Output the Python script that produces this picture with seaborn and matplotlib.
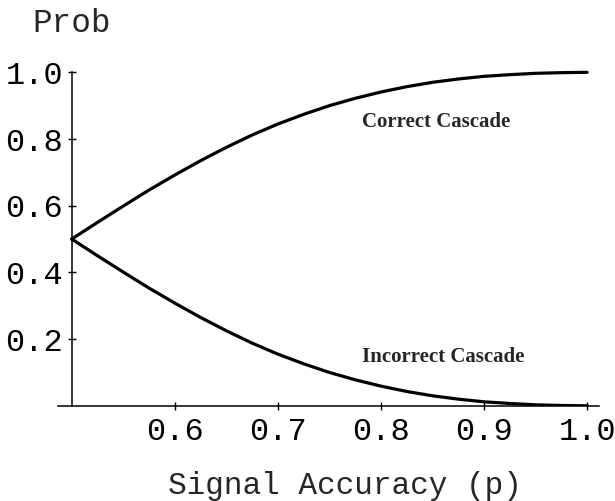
import matplotlib
matplotlib.use("Agg")
import matplotlib.pyplot as plt
import seaborn as sns
import pandas as pd

# signal accuracy p and the two cascade probabilities
p_values = [0.5, 0.525, 0.55, 0.575, 0.6, 0.625, 0.65, 0.675, 0.7, 0.725, 0.75,
            0.775, 0.8, 0.825, 0.85, 0.875, 0.9, 0.925, 0.95, 0.975, 1.0]
correct = [0.5, 0.550, 0.599, 0.647, 0.692, 0.735, 0.775, 0.812, 0.845, 0.874, 0.900,
           0.922, 0.941, 0.957, 0.970, 0.980, 0.988, 0.993, 0.997, 0.999, 1.0]
incorrect = [0.5, 0.450, 0.401, 0.353, 0.308, 0.265, 0.225, 0.188, 0.155, 0.126, 0.100,
             0.078, 0.059, 0.043, 0.030, 0.020, 0.012, 0.007, 0.003, 0.001, 0.0]
x_ticks = [0.6, 0.7, 0.8, 0.9, 1.0]
y_ticks = [0.2, 0.4, 0.6, 0.8, 1.0]

df = pd.DataFrame({"p": p_values, "Correct Cascade": correct,
                   "Incorrect Cascade": incorrect})

sns.set_style("white")
plt.rcParams["font.family"] = ["Liberation Mono", "DejaVu Sans Mono"]

fig = plt.figure(figsize=(6.15, 5.01), dpi=100)
ax = fig.add_axes([0.0943, 0.190, 0.880, 0.6723])

sns.lineplot(data=df, x="p", y="Correct Cascade", color="black", linewidth=2.3, ax=ax)
sns.lineplot(data=df, x="p", y="Incorrect Cascade", color="black", linewidth=2.3, ax=ax)

ax.set_xlim(0.4867, 1.0117)
ax.set_ylim(0, 1.01)

for s in ["top", "right"]:
    ax.spines[s].set_visible(False)
ax.spines["left"].set_position(("data", 0.5))
ax.spines["left"].set_bounds(0, 1.0)
for s in ["left", "bottom"]:
    ax.spines[s].set_color("black")
    ax.spines[s].set_linewidth(1.1)

ax.set_xticks(x_ticks)
ax.set_xticklabels([f"{v:.1f}" for v in x_ticks])
ax.set_yticks(y_ticks)
ax.set_yticklabels([f"{v:.1f}" for v in y_ticks])
ax.tick_params(axis="both", direction="inout", length=6, width=1, color="black",
               labelsize=23, labelcolor="black")
ax.tick_params(axis="x", pad=5)
ax.tick_params(axis="y", pad=3)
ax.xaxis.set_ticks_position("bottom")
ax.yaxis.set_ticks_position("left")

ax.set_xlabel("")
ax.set_ylabel("")
fig.text(32 / 615, 1 - 23 / 501, "Prob", fontsize=23.5, ha="left", va="center")
fig.text(345 / 615, 1 - 494 / 501, "Signal Accuracy (p)", fontsize=22.4,
         ha="center", va="baseline")

ax.text(0.7818, 0.851, "Correct Cascade", family="Liberation Serif",
        fontweight="bold", fontsize=15, ha="left", va="center")
ax.text(0.7818, 0.146, "Incorrect Cascade", family="Liberation Serif",
        fontweight="bold", fontsize=15, ha="left", va="center")

plt.savefig("out.png", dpi=100, facecolor="white")
plt.close()
